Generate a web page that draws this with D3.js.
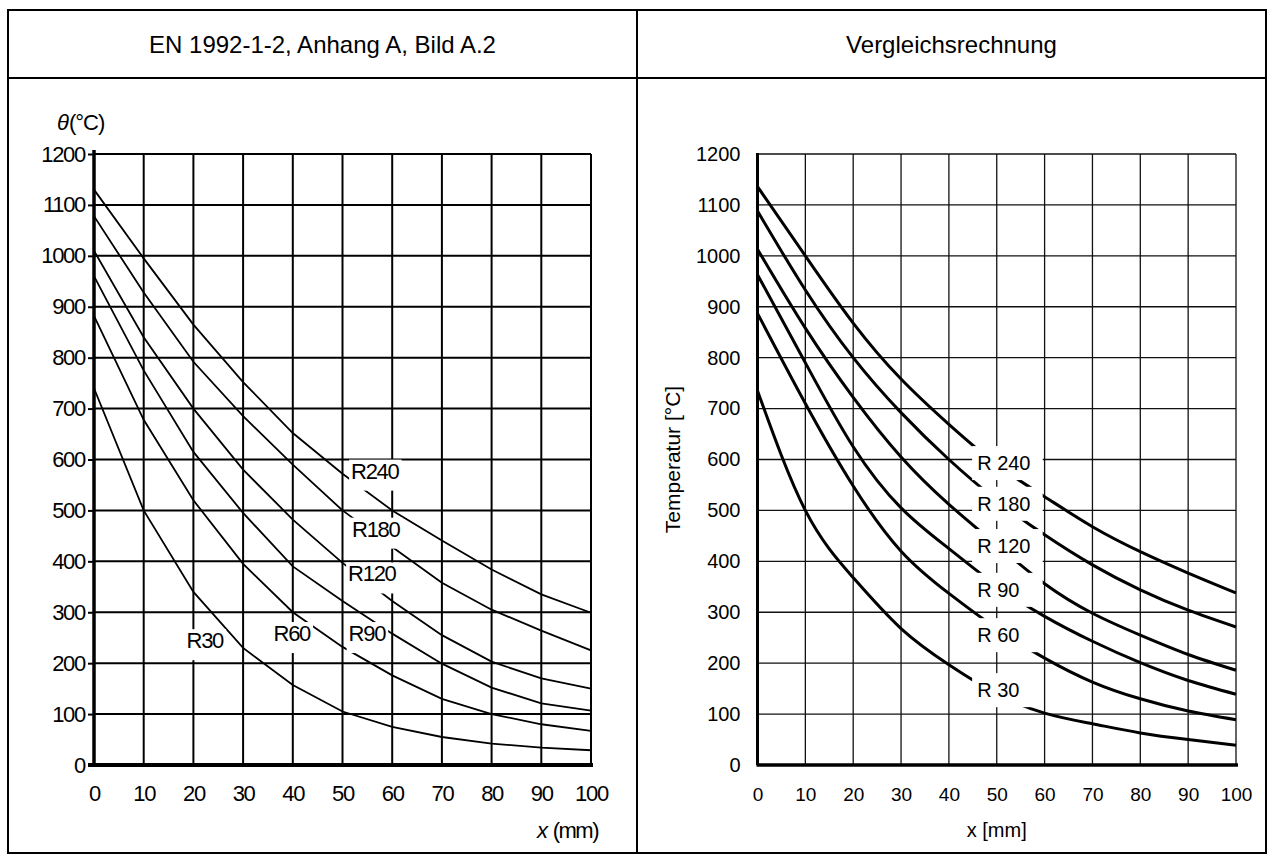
<!DOCTYPE html>
<html>
<head>
<meta charset="utf-8">
<script src="https://cdn.jsdelivr.net/npm/d3@7"></script>
<style>
  html, body { margin: 0; padding: 0; background: #fff; }
  svg { display: block; }
  text { font-family: "Liberation Sans", Arial, Helvetica, sans-serif; fill: #000; }
</style>
</head>
<body>
<svg id="page" width="1275" height="864"></svg>
<script>
// ---- data ----------------------------------------------------------------
const depths = [0, 10, 20, 30, 40, 50, 60, 70, 80, 90, 100];          // x (mm)
const xTicks = [0, 10, 20, 30, 40, 50, 60, 70, 80, 90, 100];
const yTicks = [0, 100, 200, 300, 400, 500, 600, 700, 800, 900, 1000, 1100, 1200];
const seriesNames = ["R30", "R60", "R90", "R120", "R180", "R240"];

// EN 1992-1-2, Anhang A, Bild A.2 (temperature in °C at depth x)
const enR30  = [740, 500, 340, 230, 157, 105,  75,  55,  42,  34,  29];
const enR60  = [882, 678, 520, 395, 300, 232, 176, 130, 100,  80,  67];
const enR90  = [960, 775, 615, 495, 390, 322, 258, 199, 152, 121, 107];
const enR120 = [1010, 840, 700, 580, 482, 397, 322, 255, 203, 170, 150];
const enR180 = [1078, 928, 792, 685, 590, 500, 428, 358, 305, 264, 225];
const enR240 = [1130, 995, 865, 752, 652, 572, 500, 441, 384, 335, 299];

// Vergleichsrechnung (temperature in °C at depth x)
const vgR30  = [735, 500, 368, 268, 197, 140, 102,  81,  63,  50,  39];
const vgR60  = [887, 710, 548, 420, 337, 268, 210, 163, 130, 106,  89];
const vgR90  = [963, 790, 625, 505, 425, 352, 292, 243, 201, 166, 139];
const vgR120 = [1013, 858, 722, 605, 512, 432, 356, 298, 255, 217, 186];
const vgR180 = [1088, 933, 800, 692, 600, 520, 452, 393, 344, 304, 271];
const vgR240 = [1136, 1000, 868, 758, 669, 590, 527, 468, 419, 377, 338];

// curve labels, anchored in data units [x, temperature]
const enLabelText = ["R30", "R60", "R90", "R120", "R180", "R240"];
const enLabelAt   = [[22.3, 245], [39.8, 259], [54.9, 259], [55.9, 376], [56.7, 464], [56.5, 578]];
const vgLabelText = ["R 30", "R 60", "R 90", "R 120", "R 180", "R 240"];
const vgLabelAt   = [[45.9, 147], [45.9, 255], [45.9, 344], [45.9, 430], [45.9, 513], [45.9, 593]];

const enSeries = [enR30, enR60, enR90, enR120, enR180, enR240];
const vgSeries = [vgR30, vgR60, vgR90, vgR120, vgR180, vgR240];

const fmt = d3.format("d");

// ---- page frame (two-column table) ----------------------------------------
const svg = d3.select("#page");
const T = { left: 8, top: 10, right: 1266, bottom: 853, head: 78, mid: 637 };

const frame = svg.append("g").attr("stroke", "#000").attr("stroke-width", 2).attr("fill", "none");
frame.append("rect").attr("x", T.left).attr("y", T.top)
  .attr("width", T.right - T.left).attr("height", T.bottom - T.top);
frame.append("line").attr("x1", T.left).attr("x2", T.right).attr("y1", T.head).attr("y2", T.head);
frame.append("line").attr("x1", T.mid).attr("x2", T.mid).attr("y1", T.top).attr("y2", T.bottom);

svg.append("text").attr("x", (T.left + T.mid) / 2).attr("y", 53)
  .attr("text-anchor", "middle").style("font-size", "24px")
  .text("EN 1992-1-2, Anhang A, Bild A.2");
svg.append("text").attr("x", (T.mid + T.right) / 2).attr("y", 53)
  .attr("text-anchor", "middle").style("font-size", "24px")
  .text("Vergleichsrechnung");

// ---- left chart: standard figure ------------------------------------------
(function () {
  const x = d3.scaleLinear().domain([0, 100]).range([94, 591]);
  const y = d3.scaleLinear().domain([0, 1200]).range([765, 154]);
  const g = svg.append("g");

  // grid
  g.append("g").selectAll("line").data(xTicks.filter(d => d > 0)).join("line")
    .attr("x1", d => x(d)).attr("x2", d => x(d)).attr("y1", y(0)).attr("y2", y(1200))
    .attr("stroke", "#000").attr("stroke-width", 2);
  g.append("g").selectAll("line").data(yTicks.filter(d => d > 0)).join("line")
    .attr("x1", x(0)).attr("x2", x(100)).attr("y1", d => y(d)).attr("y2", d => y(d))
    .attr("stroke", "#000").attr("stroke-width", 2);

  // curves (polylines)
  const line = d3.line().x((d, i) => x(depths[i])).y(d => y(d)).curve(d3.curveLinear);
  g.append("g").selectAll("path").data(enSeries).join("path")
    .attr("d", line).attr("fill", "none").attr("stroke", "#000").attr("stroke-width", 1.8);

  // axes
  const yAxis = d3.axisLeft(y).tickValues(yTicks).tickFormat(fmt).tickSize(6).tickPadding(3);
  const ya = g.append("g").attr("transform", `translate(${x(0)},0)`).call(yAxis);
  ya.select(".domain").remove();
  ya.selectAll(".tick line").attr("stroke", "#000").attr("stroke-width", 2);
  ya.selectAll(".tick text").style("font-size", "22px").style("letter-spacing", "-1.3px");

  const xAxis = d3.axisBottom(x).tickValues(xTicks).tickFormat(fmt).tickSize(0).tickPadding(20);
  const xa = g.append("g").attr("transform", `translate(0,${y(0)})`).call(xAxis);
  xa.select(".domain").remove();
  xa.selectAll(".tick text").style("font-size", "22px").style("letter-spacing", "-1.3px");

  g.append("line").attr("x1", x(0)).attr("x2", x(0)).attr("y1", y(1200) - 4).attr("y2", y(0) + 2)
    .attr("stroke", "#000").attr("stroke-width", 3.5);
  g.append("line").attr("x1", x(0) - 6).attr("x2", x(100) + 2).attr("y1", y(0)).attr("y2", y(0))
    .attr("stroke", "#000").attr("stroke-width", 4);

  // curve labels on white patches
  const lab = g.append("g").selectAll("g").data(enLabelText).join("g");
  lab.each(function (d, i) {
    const sel = d3.select(this);
    const t = sel.append("text").attr("x", x(enLabelAt[i][0])).attr("y", y(enLabelAt[i][1]))
      .attr("text-anchor", "middle").attr("dy", "0.36em")
      .style("font-size", "22px").style("letter-spacing", "-1.3px").text(d);
    const b = t.node().getBBox();
    sel.insert("rect", "text").attr("x", b.x - 2).attr("y", b.y + 1)
      .attr("width", b.width + 4).attr("height", b.height + 6).attr("fill", "#fff");
  });

  // axis titles
  const yt = g.append("text").attr("x", 57).attr("y", 130).style("font-size", "22px");
  yt.append("tspan").style("font-style", "italic").text("θ");
  yt.append("tspan").style("letter-spacing", "-1px").text("(°C)");
  const xt = g.append("text").attr("x", 598).attr("y", 838).attr("text-anchor", "end")
    .style("font-size", "22px");
  xt.append("tspan").style("font-style", "italic").text("x");
  xt.append("tspan").style("letter-spacing", "-1.5px").text(" (mm)");
})();

// ---- right chart: comparison calculation ----------------------------------
(function () {
  const x = d3.scaleLinear().domain([0, 100]).range([757.5, 1236]);
  const y = d3.scaleLinear().domain([0, 1200]).range([765, 154]);
  const g = svg.append("g");

  g.append("g").selectAll("line").data(xTicks.filter(d => d > 0)).join("line")
    .attr("x1", d => x(d)).attr("x2", d => x(d)).attr("y1", y(0)).attr("y2", y(1200))
    .attr("stroke", "#111").attr("stroke-width", 1.3);
  g.append("g").selectAll("line").data(yTicks.filter(d => d > 0)).join("line")
    .attr("x1", x(0)).attr("x2", x(100)).attr("y1", d => y(d)).attr("y2", d => y(d))
    .attr("stroke", "#111").attr("stroke-width", 1.3);

  // smooth computed profiles
  const line = d3.line().x((d, i) => x(depths[i])).y(d => y(d)).curve(d3.curveNatural);
  g.append("g").selectAll("path").data(vgSeries).join("path")
    .attr("d", line).attr("fill", "none").attr("stroke", "#000").attr("stroke-width", 3);

  const yAxis = d3.axisLeft(y).tickValues(yTicks).tickFormat(fmt).tickSize(0).tickPadding(17);
  const ya = g.append("g").attr("transform", `translate(${x(0)},0)`).call(yAxis);
  ya.select(".domain").remove();
  ya.selectAll(".tick text").style("font-size", "20px");

  const xAxis = d3.axisBottom(x).tickValues(xTicks).tickFormat(fmt).tickSize(0).tickPadding(23);
  const xa = g.append("g").attr("transform", `translate(0,${y(0)})`).call(xAxis);
  xa.select(".domain").remove();
  xa.selectAll(".tick text").style("font-size", "19px");

  g.append("line").attr("x1", x(0)).attr("x2", x(0)).attr("y1", y(1200) - 1).attr("y2", y(0))
    .attr("stroke", "#000").attr("stroke-width", 3);
  g.append("line").attr("x1", x(0) - 1).attr("x2", x(100) + 2).attr("y1", y(0)).attr("y2", y(0))
    .attr("stroke", "#000").attr("stroke-width", 3.5);

  const lab = g.append("g").selectAll("g").data(vgLabelText).join("g");
  lab.each(function (d, i) {
    const sel = d3.select(this);
    const cy = y(vgLabelAt[i][1]);
    sel.append("rect").attr("x", x(vgLabelAt[i][0]) - 5).attr("y", cy - 17)
      .attr("width", x(59.6) - x(vgLabelAt[i][0]) + 5).attr("height", 34).attr("fill", "#fff");
    sel.append("text").attr("x", x(vgLabelAt[i][0])).attr("y", cy).attr("dy", "0.36em")
      .style("font-size", "20px").text(d);
  });

  g.append("text").attr("transform", `translate(680,${y(600)}) rotate(-90)`)
    .attr("text-anchor", "middle").style("font-size", "21px").text("Temperatur [°C]");
  g.append("text").attr("x", x(50)).attr("y", 837).attr("text-anchor", "middle")
    .style("font-size", "20px").text("x [mm]");
})();
</script>
</body>
</html>
